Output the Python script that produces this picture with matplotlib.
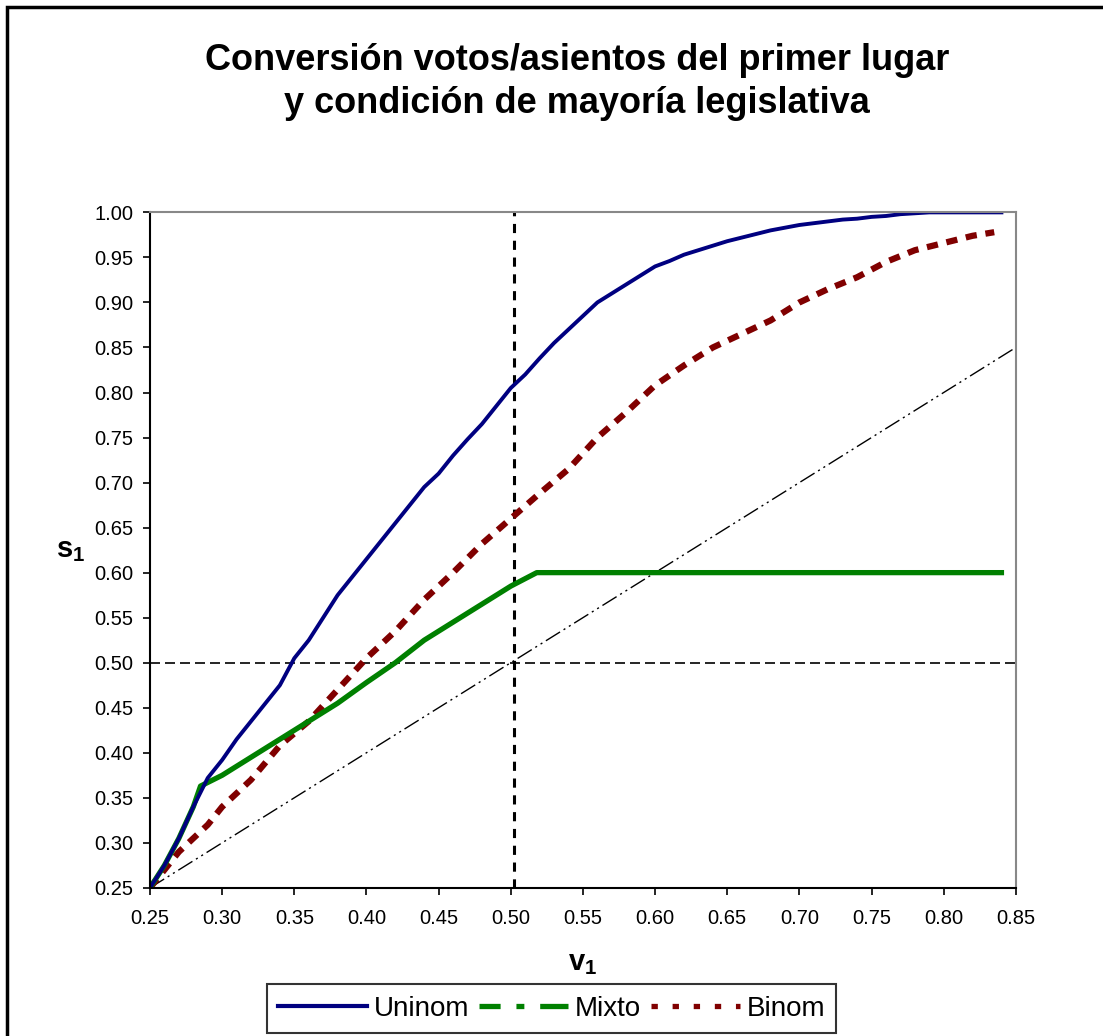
import matplotlib
matplotlib.use("Agg")
import matplotlib.pyplot as plt
from matplotlib.lines import Line2D
from matplotlib.patches import Rectangle
import numpy as np

plt.rcParams['font.family'] = ['Liberation Sans', 'DejaVu Sans']
plt.rcParams['mathtext.fontset'] = 'custom'
plt.rcParams['mathtext.rm'] = 'Liberation Sans'
plt.rcParams['mathtext.bf'] = 'Liberation Sans:bold'

# Uninom: first-place seat share under single-member districts
uninom_v = [0.25, 0.26, 0.27, 0.28, 0.29, 0.30, 0.31, 0.32, 0.33, 0.34, 0.35,
            0.36, 0.37, 0.38, 0.39, 0.40, 0.41, 0.42, 0.43, 0.44, 0.45, 0.46,
            0.47, 0.48, 0.49, 0.50, 0.51, 0.52, 0.53, 0.54, 0.55, 0.56, 0.57,
            0.58, 0.59, 0.60, 0.61, 0.62, 0.63, 0.64, 0.65, 0.66, 0.67, 0.68,
            0.69, 0.70, 0.71, 0.72, 0.73, 0.74, 0.75, 0.76, 0.77, 0.78, 0.79,
            0.80, 0.81, 0.82, 0.83, 0.84]
uninom_s = [0.250, 0.275, 0.305, 0.340, 0.372, 0.392, 0.415, 0.435, 0.455, 0.475, 0.505,
            0.525, 0.550, 0.575, 0.595, 0.615, 0.635, 0.655, 0.675, 0.695, 0.710, 0.730,
            0.748, 0.765, 0.785, 0.805, 0.820, 0.838, 0.855, 0.870, 0.885, 0.900, 0.910,
            0.920, 0.930, 0.940, 0.946, 0.953, 0.958, 0.963, 0.968, 0.972, 0.976, 0.980,
            0.983, 0.986, 0.988, 0.990, 0.992, 0.993, 0.995, 0.996, 0.998, 0.999, 1.000,
            1.000, 1.000, 1.000, 1.000, 1.000]

# Mixto
mixto_v = [0.25, 0.26, 0.27, 0.28, 0.285, 0.30, 0.32, 0.34, 0.36, 0.38, 0.40,
           0.42, 0.44, 0.46, 0.48, 0.50, 0.518, 0.84]
mixto_s = [0.250, 0.275, 0.305, 0.340, 0.363, 0.375, 0.395, 0.415, 0.435, 0.455, 0.478,
           0.500, 0.525, 0.545, 0.565, 0.585, 0.600, 0.600]

# Binom
binom_v = [0.25, 0.27, 0.29, 0.30, 0.32, 0.34, 0.36, 0.38, 0.40, 0.42, 0.44,
           0.46, 0.48, 0.50, 0.52, 0.54, 0.56, 0.58, 0.60, 0.62, 0.64, 0.66,
           0.68, 0.70, 0.72, 0.74, 0.76, 0.78, 0.80, 0.82, 0.835]
binom_s = [0.250, 0.290, 0.320, 0.340, 0.370, 0.408, 0.435, 0.470, 0.505, 0.535, 0.570,
           0.600, 0.632, 0.660, 0.688, 0.715, 0.750, 0.778, 0.808, 0.830, 0.850, 0.865,
           0.880, 0.900, 0.915, 0.928, 0.945, 0.958, 0.966, 0.974, 0.978]

# proportional reference line and majority thresholds
prop_v = [0.25, 0.85]
majority_s = 0.50
threshold_v = 0.502

xticks = [0.25, 0.30, 0.35, 0.40, 0.45, 0.50, 0.55, 0.60, 0.65, 0.70, 0.75, 0.80, 0.85]
yticks = [0.25, 0.30, 0.35, 0.40, 0.45, 0.50, 0.55, 0.60, 0.65, 0.70, 0.75, 0.80,
          0.85, 0.90, 0.95, 1.00]

blue = '#000080'
green = '#008000'
red = '#800000'

fig = plt.figure(figsize=(11.03, 10.36), dpi=100)
ax = fig.add_axes([0.136, 0.143, 0.785, 0.652])

# reference lines
ax.plot(prop_v, prop_v, color='black', lw=1.0, dashes=(12, 3, 1.5, 3, 1.5, 3))
ax.axhline(majority_s, color='black', lw=1.2, dashes=(6, 3))
ax.axvline(threshold_v, color='black', lw=2.2, dashes=(3, 2.5))

ax.plot(binom_v, binom_s, color=red, lw=4.5, dashes=(1.8, 1.4))
ax.plot(mixto_v, mixto_s, color=green, lw=3.8)
ax.plot(uninom_v, uninom_s, color=blue, lw=2.8)

ax.set_xlim(0.25, 0.85)
ax.set_ylim(0.25, 1.00)
ax.set_xticks(xticks)
ax.set_yticks(yticks)
ax.set_xticklabels([f"{t:.2f}" for t in xticks])
ax.set_yticklabels([f"{t:.2f}" for t in yticks])
ax.tick_params(direction='out', length=5, width=1.2, labelsize=14.5)
ax.tick_params(axis='x', pad=10)
ax.tick_params(axis='y', pad=7)

for side in ['left', 'bottom']:
    ax.spines[side].set_color('black')
    ax.spines[side].set_linewidth(1.5)
for side in ['top', 'right']:
    ax.spines[side].set_color('#888888')
    ax.spines[side].set_linewidth(1.5)

ax.set_xlabel(r'$\mathbf{v_1}$', fontsize=21, labelpad=15)
ax.set_ylabel(r'$\mathbf{s_1}$', fontsize=21, rotation=0, labelpad=17, va='center')

fig.text(0.523, 0.921, 'Conversión votos/asientos del primer lugar\ny condición de mayoría legislativa',
         ha='center', va='center', fontsize=26, fontweight='bold', linespacing=1.3)

handles = [Line2D([], [], color=blue, lw=3),
           Line2D([], [], color=green, lw=3.8, dashes=(4, 3, 1.5, 3, 1.5, 0)),
           Line2D([], [], color=red, lw=3.8, dashes=(1.2, 2.8))]
leg = fig.legend(handles, ['Uninom', 'Mixto', 'Binom'], loc='center',
                 bbox_to_anchor=(0.5, 0.0265), ncol=3, fontsize=20, frameon=True,
                 fancybox=False, edgecolor='black', handlelength=3.2,
                 handletextpad=0.25, columnspacing=0.35, borderpad=0.4)
leg.get_frame().set_linewidth(1.5)

# outer chart-area border
fig.patches.append(Rectangle((7 / 1103, -0.1), 1.2, 1.1 - 7 / 1036, transform=fig.transFigure,
                             fill=False, edgecolor='black', lw=2.5, clip_on=False))

fig.savefig('out.png', dpi=100)
